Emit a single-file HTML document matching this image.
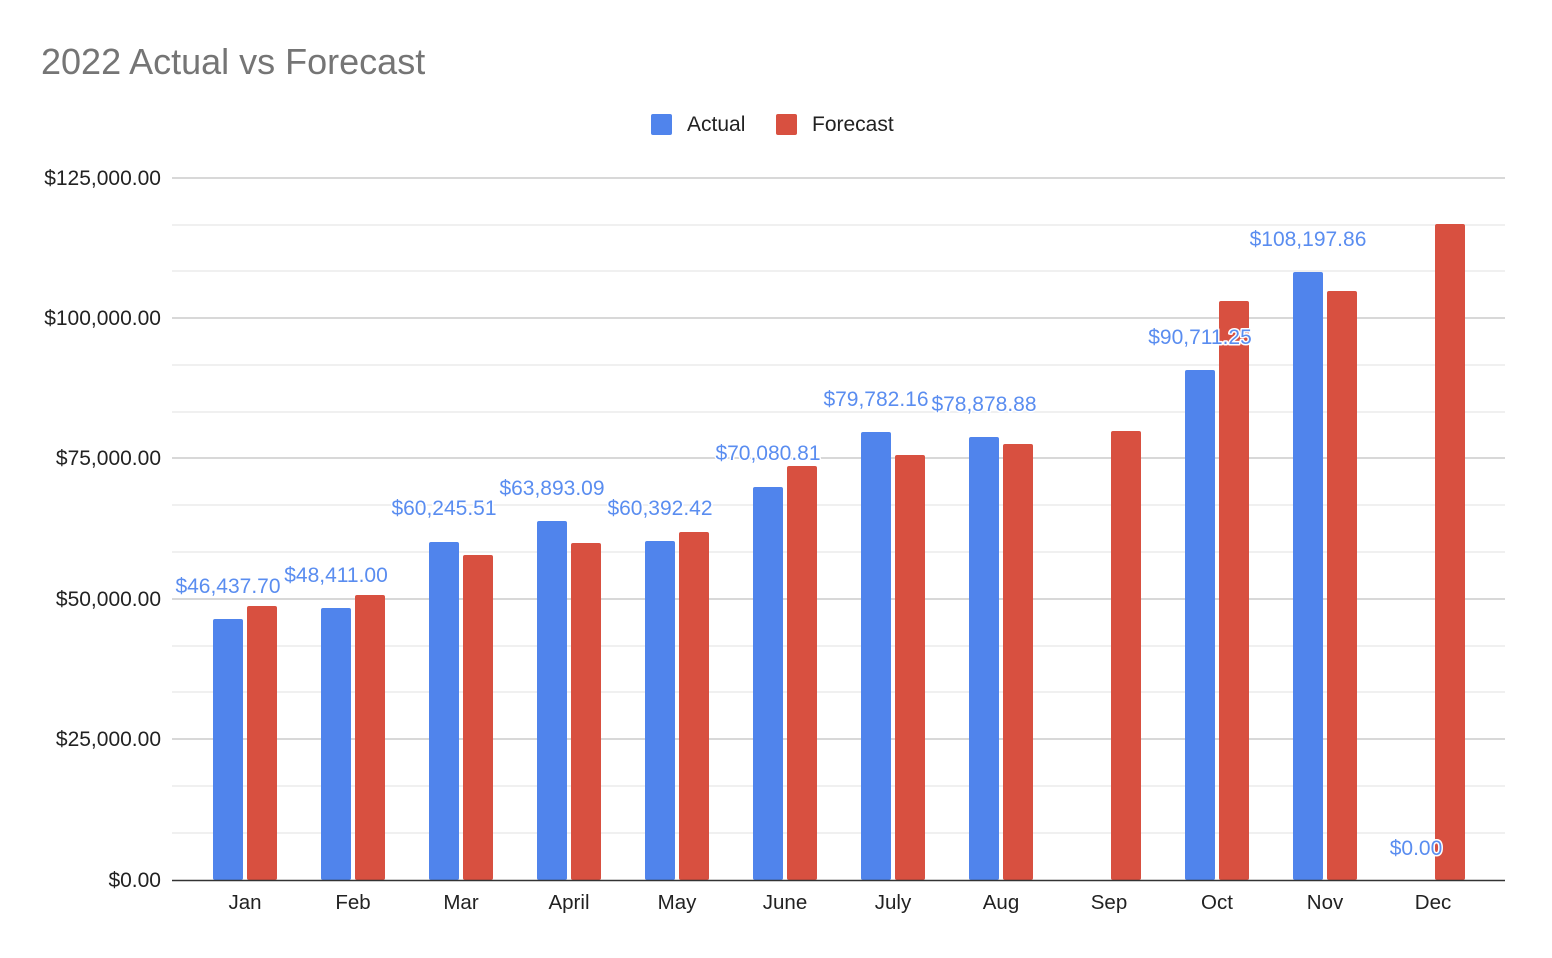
<!DOCTYPE html>
<html><head><meta charset="utf-8"><style>
html,body{margin:0;padding:0;background:#fff;}
svg{display:block;font-family:"Liberation Sans",Arial,sans-serif;}
</style></head><body>
<svg width="1552" height="958" viewBox="0 0 1552 958" xmlns="http://www.w3.org/2000/svg">
<rect width="1552" height="958" fill="#fff"/>
<text x="41" y="74" font-size="36" fill="#757575">2022 Actual vs Forecast</text>
<rect x="651" y="114" width="21" height="21" rx="2" fill="#5084ec"/>
<text x="687" y="131" font-size="21" fill="#222">Actual</text>
<rect x="776" y="114" width="21" height="21" rx="2" fill="#d85040"/>
<text x="812" y="131" font-size="21" fill="#222">Forecast</text>
<g stroke="#ebebeb" stroke-width="1.5">
<line x1="172" x2="1505" y1="225" y2="225"/><line x1="172" x2="1505" y1="271" y2="271"/>
<line x1="172" x2="1505" y1="365" y2="365"/><line x1="172" x2="1505" y1="412" y2="412"/>
<line x1="172" x2="1505" y1="505" y2="505"/><line x1="172" x2="1505" y1="552" y2="552"/>
<line x1="172" x2="1505" y1="646" y2="646"/><line x1="172" x2="1505" y1="692" y2="692"/>
<line x1="172" x2="1505" y1="786" y2="786"/><line x1="172" x2="1505" y1="833" y2="833"/>
</g>
<g stroke="#cccccc" stroke-width="1.5">
<line x1="172" x2="1505" y1="178" y2="178"/><line x1="172" x2="1505" y1="318" y2="318"/>
<line x1="172" x2="1505" y1="458" y2="458"/><line x1="172" x2="1505" y1="599" y2="599"/>
<line x1="172" x2="1505" y1="739" y2="739"/>
</g>
<g font-size="21" fill="#222" text-anchor="end">
<text x="161" y="185">$125,000.00</text><text x="161" y="325">$100,000.00</text>
<text x="161" y="465">$75,000.00</text><text x="161" y="606">$50,000.00</text>
<text x="161" y="746">$25,000.00</text><text x="161" y="887">$0.00</text>
</g>
<g fill="#5084ec">
<rect x="213" y="619" width="30" height="261" rx="2"/>
<rect x="321" y="608" width="30" height="272" rx="2"/>
<rect x="429" y="542" width="30" height="338" rx="2"/>
<rect x="537" y="521" width="30" height="359" rx="2"/>
<rect x="645" y="541" width="30" height="339" rx="2"/>
<rect x="753" y="487" width="30" height="393" rx="2"/>
<rect x="861" y="432" width="30" height="448" rx="2"/>
<rect x="969" y="437" width="30" height="443" rx="2"/>
<rect x="1185" y="370" width="30" height="510" rx="2"/>
<rect x="1293" y="272" width="30" height="608" rx="2"/>
</g>
<g fill="#d85040">
<rect x="247" y="606" width="30" height="274" rx="2"/>
<rect x="355" y="595" width="30" height="285" rx="2"/>
<rect x="463" y="555" width="30" height="325" rx="2"/>
<rect x="571" y="543" width="30" height="337" rx="2"/>
<rect x="679" y="532" width="30" height="348" rx="2"/>
<rect x="787" y="466" width="30" height="414" rx="2"/>
<rect x="895" y="455" width="30" height="425" rx="2"/>
<rect x="1003" y="444" width="30" height="436" rx="2"/>
<rect x="1111" y="431" width="30" height="449" rx="2"/>
<rect x="1219" y="301" width="30" height="579" rx="2"/>
<rect x="1327" y="291" width="30" height="589" rx="2"/>
<rect x="1435" y="224" width="30" height="656" rx="2"/>
</g>
<line x1="172" x2="1505" y1="880.5" y2="880.5" stroke="#333" stroke-width="1.5"/>
<g font-size="20.5" fill="#222" text-anchor="middle">
<text x="245" y="909">Jan</text><text x="353" y="909">Feb</text><text x="461" y="909">Mar</text>
<text x="569" y="909">April</text><text x="677" y="909">May</text><text x="785" y="909">June</text>
<text x="893" y="909">July</text><text x="1001" y="909">Aug</text><text x="1109" y="909">Sep</text>
<text x="1217" y="909">Oct</text><text x="1325" y="909">Nov</text><text x="1433" y="909">Dec</text>
</g>
<g font-size="21" fill="#5a8df0" text-anchor="middle" stroke="#fff" stroke-width="3" paint-order="stroke" stroke-linejoin="round">
<text x="228" y="593">$46,437.70</text>
<text x="336" y="582">$48,411.00</text>
<text x="444" y="515">$60,245.51</text>
<text x="552" y="495">$63,893.09</text>
<text x="660" y="515">$60,392.42</text>
<text x="768" y="460">$70,080.81</text>
<text x="876" y="406">$79,782.16</text>
<text x="984" y="411">$78,878.88</text>
<text x="1200" y="344">$90,711.25</text>
<text x="1308" y="246">$108,197.86</text>
<text x="1416" y="855">$0.00</text>
</g>
</svg>
</body></html>
